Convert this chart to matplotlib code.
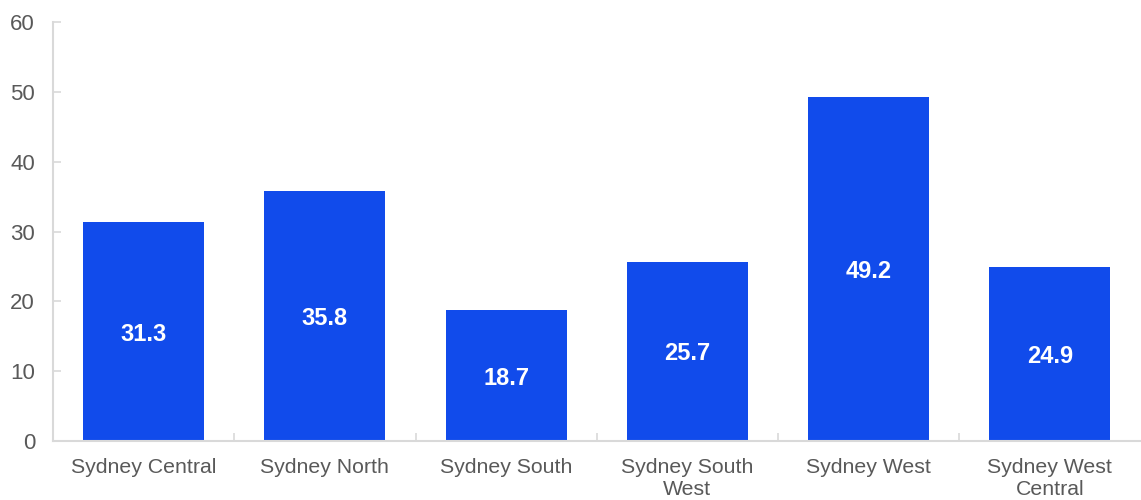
import matplotlib
matplotlib.use("Agg")
import matplotlib.pyplot as plt
import numpy as np

plt.rcParams["font.family"] = ["Liberation Sans", "DejaVu Sans"]

regions = ["Sydney Central", "Sydney North", "Sydney South",
           "Sydney South\nWest", "Sydney West", "Sydney West\nCentral"]
values = [31.3, 35.8, 18.7, 25.7, 49.2, 24.9]
y_ticks = [0, 10, 20, 30, 40, 50, 60]

bar_color = "#114BEB"
axis_color = "#D9D9D9"
text_color = "#595959"

fig = plt.figure(figsize=(11.41, 5.0), dpi=100)
ax = fig.add_axes([0.0465, 0.118, 0.953, 0.838])

x = np.arange(len(regions))
bars = ax.bar(x, values, width=0.667, color=bar_color, zorder=2)

for b, v in zip(bars, values):
    ax.text(b.get_x() + b.get_width() / 2, v / 2, f"{v:.1f}",
            ha="center", va="center_baseline", color="white",
            fontsize=17, fontweight="bold")

ax.set_xlim(-0.5, len(regions) - 0.5)
ax.set_ylim(0, 60)
ax.set_yticks(y_ticks)
ax.set_xticks(x)
ax.set_xticklabels(regions, fontsize=15.3, color=text_color, linespacing=1.25)
ax.tick_params(axis="x", length=0, pad=12)
ax.set_xticks(np.arange(0.5, len(regions) - 0.5, 1), minor=True)
ax.tick_params(axis="x", which="minor", direction="in", length=6,
               color=axis_color, width=1.2)
ax.tick_params(axis="y", direction="in", length=6, color=axis_color,
               width=1.2, labelsize=16, labelcolor=text_color, pad=13)

for side in ["top", "right"]:
    ax.spines[side].set_visible(False)
for side in ["left", "bottom"]:
    ax.spines[side].set_color(axis_color)
    ax.spines[side].set_linewidth(1.5)

fig.savefig("out.png", dpi=100)
